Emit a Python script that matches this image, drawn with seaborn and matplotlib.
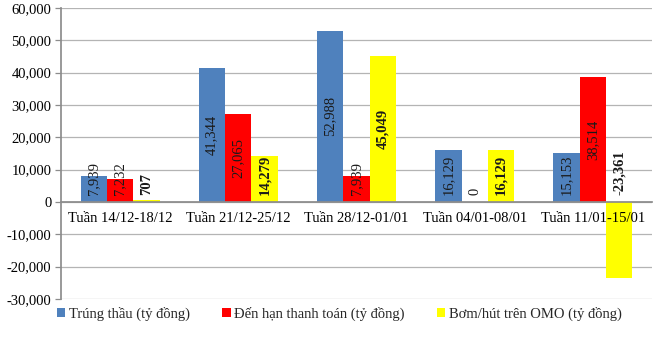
import matplotlib
matplotlib.use("Agg")
import matplotlib.pyplot as plt
import seaborn as sns
import pandas as pd
from matplotlib.patches import Patch
from matplotlib.ticker import FuncFormatter, FixedLocator

categories = ["Tuần 14/12-18/12", "Tuần 21/12-25/12", "Tuần 28/12-01/01",
              "Tuần 04/01-08/01", "Tuần 11/01-15/01"]
series_names = ["Trúng thầu (tỷ đồng)", "Đến hạn thanh toán (tỷ đồng)",
                "Bơm/hút trên OMO (tỷ đồng)"]
trung_thau = [7939, 41344, 52988, 16129, 15153]
den_han = [7232, 27065, 7939, 0, 38514]
bom_hut = [707, 14279, 45049, 16129, -23361]
colors = ["#4F81BD", "#FF0000", "#FFFF00"]

series_values = [trung_thau, den_han, bom_hut]
rows = []
for name, vals in zip(series_names, series_values):
    for c, v in zip(categories, vals):
        rows.append({"cat": c, "series": name, "value": v})
df = pd.DataFrame(rows)

sns.set_theme(style="white")
plt.rcParams["font.family"] = ["Liberation Serif", "DejaVu Serif"]

fig = plt.figure(figsize=(6.6, 3.42), dpi=100)
ax = fig.add_axes([61/660, 1-299/342, (652-61)/660, (299-8)/342])

sns.barplot(data=df, x="cat", y="value", hue="series", order=categories,
            hue_order=series_names, palette=dict(zip(series_names, colors)),
            width=0.67, gap=0, linewidth=0, edgecolor="none", ax=ax,
            legend=False, errorbar=None, saturation=1)

ax.set_ylim(-30000, 60000)
ax.set_xlim(-0.5, len(categories) - 0.5)
ax.yaxis.set_major_locator(FixedLocator(range(-30000, 60001, 10000)))
ax.yaxis.set_major_formatter(FuncFormatter(lambda v, p: f"{int(v):,}"))
ax.grid(axis="y", color="#B4B4B4", linewidth=0.9)
ax.set_axisbelow(True)
ax.set_xlabel("")
ax.set_ylabel("")

for s in ["top", "right"]:
    ax.spines[s].set_visible(False)
ax.spines["left"].set_color("#8C8C8C")
ax.spines["bottom"].set_color("#8C8C8C")
ax.spines["bottom"].set_position(("data", 0))
ax.spines["bottom"].set_zorder(3)

ax.set_xticks([i - 0.5 for i in range(len(categories) + 1)])
ax.set_xticklabels([""] * (len(categories) + 1))
ax.tick_params(axis="x", direction="out", length=5, color="#8C8C8C", width=0.9)
ax.tick_params(axis="y", direction="out", length=4, color="#8C8C8C", width=0.9,
               labelsize=10.5, pad=3, labelcolor="black", left=True)

for i, c in enumerate(categories):
    ax.text(i, -5200, c, ha="center", va="center", fontsize=10.5, color="black")

# data labels
for k, (cont, vals) in enumerate(zip(ax.containers, series_values)):
    for patch, v in zip(cont.patches, vals):
        x = patch.get_x() + patch.get_width() / 2
        txt = f"{v:,}"
        weight = "bold" if k == 2 else "normal"
        if v > 17000:
            ax.text(x, v / 2, txt, rotation=90, ha="center", va="center",
                    fontsize=10.5, fontweight=weight, color="#1A1A1A")
        else:
            ax.text(x, 2200, txt, rotation=90, ha="center", va="bottom",
                    fontsize=10.5, fontweight=weight, color="#1A1A1A")

handles = [Patch(facecolor=col, edgecolor="none", label=n)
           for n, col in zip(series_names, colors)]
fig.legend(handles=handles, loc="center left", bbox_to_anchor=(57/660, 1-314/342),
           ncol=3, frameon=False, fontsize=10.5, handlelength=0.55, handleheight=0.55,
           handletextpad=0.25, columnspacing=2.25, borderaxespad=0, borderpad=0)

fig.savefig("out.png", dpi=100)
